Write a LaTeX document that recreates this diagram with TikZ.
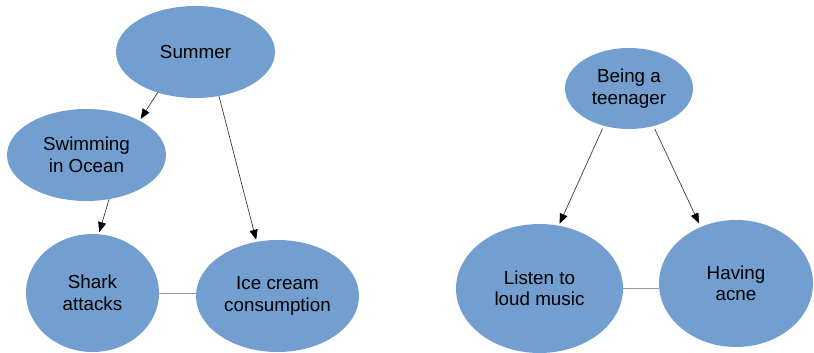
\documentclass[tikz,border=0pt]{standalone}
\usepackage{fontspec}
\setmainfont{Liberation Sans}
\usetikzlibrary{shapes.geometric,arrows.meta}
\definecolor{nodeblue}{HTML}{729FCF}
\definecolor{arrowgray}{HTML}{3C3C3C}
\definecolor{linkgray}{HTML}{9A9A9A}
\begin{document}
\begin{tikzpicture}[x=1pt,y=-1pt,
  bubble/.style={ellipse,fill=nodeblue,inner sep=0pt,align=center,
    font=\fontsize{18.8}{21.5}\selectfont},
  causal/.style={draw=arrowgray,line width=0.7pt,
    -{Triangle[length=10pt,width=8pt,color=black]},shorten >=2pt},
  assoc/.style={draw=linkgray,line width=0.9pt}]
\useasboundingbox (0,0) rectangle (814,353);
% left group
\node[bubble,minimum width=159pt,minimum height=92pt] (summer) at (195.5,52) {Summer};
\node[bubble,minimum width=159pt,minimum height=92pt] (swim) at (86.5,155) {Swimming\\in Ocean};
\node[bubble,minimum width=133pt,minimum height=118pt] (shark) at (92.5,293) {Shark\\attacks};
\node[bubble,minimum width=163pt,minimum height=112pt] (ice) at (277.5,296) {Ice cream\\consumption};
% right group
\node[bubble,minimum width=128pt,minimum height=81pt] (teen) at (629,88.5) {Being a\\teenager};
\node[bubble,minimum width=167pt,minimum height=129pt] (music) at (539.5,288.5) {Listen to\\loud music};
\node[bubble,minimum width=154pt,minimum height=127pt] (acne) at (736,283.5) {Having\\acne};
% connectors
\draw[causal] (summer.227.6) -- (swim.33.7);
\draw[causal] (summer.298.6) -- (ice.111);
\draw[causal] (swim.297.1) -- (shark.84.8);
\draw[assoc] (shark.east) -- (ice.west |- shark.east);
\draw[causal,shorten <=3pt] (teen.236.3) -- (music.73.2);
\draw[causal,shorten <=3pt,shorten >=4pt] (teen.303.7) -- (acne.122.6);
\draw[assoc] (music.east) -- (acne.west |- music.east);
\end{tikzpicture}
\end{document}
